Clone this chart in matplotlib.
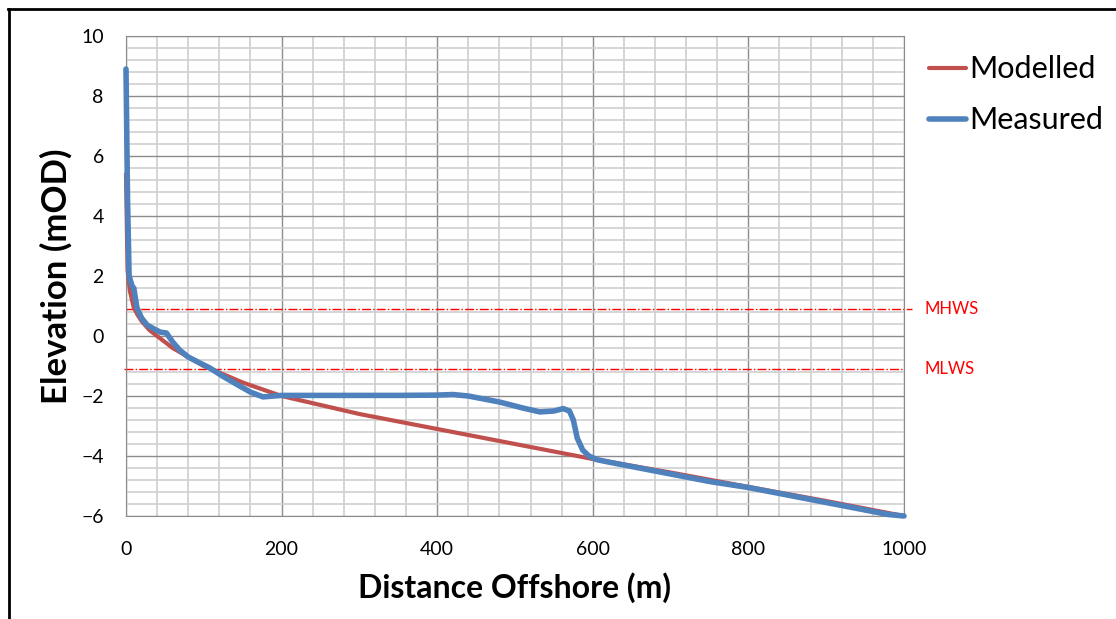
import numpy as np
import matplotlib.pyplot as plt
from matplotlib.lines import Line2D
from matplotlib.ticker import MultipleLocator

plt.rcParams['font.family'] = ['Lato', 'DejaVu Sans']

# modelled profile
mod_x = [0, 2, 5, 10, 15, 20, 30, 40, 60, 80, 100, 150, 200, 300, 400, 500, 600, 700, 800, 900, 1000]
mod_y = [5.4, 2.2, 1.5, 0.95, 0.7, 0.5, 0.2, 0.0, -0.4, -0.7, -1.0, -1.55, -2.0, -2.6, -3.1, -3.6, -4.1, -4.55, -5.03, -5.5, -6.0]

# measured profile
meas_x = [0, 2, 4, 8, 10, 14, 20, 27, 35, 44, 52, 60, 69, 80, 95, 108, 125, 145, 160, 176, 190,
          200, 250, 300, 350, 400, 420, 440, 480, 510, 532, 550, 562, 570, 575, 580, 587, 595,
          605, 620, 650, 700, 750, 800, 850, 900, 950, 980, 1000]
meas_y = [8.9, 4.5, 2.0, 1.65, 1.6, 0.95, 0.6, 0.37, 0.25, 0.13, 0.1, -0.2, -0.47, -0.7, -0.9, -1.07, -1.35, -1.65, -1.87, -2.03, -2.0,
          -1.98, -1.98, -1.98, -1.98, -1.97, -1.95, -2.0, -2.2, -2.4, -2.53, -2.5, -2.42, -2.5, -2.8, -3.4, -3.8, -4.0,
          -4.12, -4.2, -4.35, -4.6, -4.85, -5.05, -5.3, -5.55, -5.8, -5.95, -6.0]

mhws = 0.9
mlws = -1.1

fig = plt.figure(figsize=(11.16, 6.19), dpi=100)
ax = fig.add_axes([0.1129, 0.1664, 0.6971, 0.7754])

ax.set_xlim(0, 1000)
ax.set_ylim(-6, 10)
ax.xaxis.set_major_locator(MultipleLocator(200))
ax.xaxis.set_minor_locator(MultipleLocator(40))
ax.yaxis.set_major_locator(MultipleLocator(2))
ax.yaxis.set_minor_locator(MultipleLocator(0.4))
ax.grid(which='minor', color='#d0d0d0', lw=1.2, zorder=0)
ax.grid(which='major', color='#8c8c8c', lw=1.0, zorder=0)
ax.tick_params(which='both', length=0)
ax.tick_params(axis='y', pad=16, labelsize=14)
ax.tick_params(axis='x', pad=18, labelsize=14)
for s in ax.spines.values():
    s.set_color('#8c8c8c')
ax.set_axisbelow(True)

ax.hlines(mhws, 0, 1010, colors='#ff0000', linestyles='-.', lw=1, clip_on=False, zorder=2)
ax.hlines(mlws, -3, 1000, colors='#ff0000', linestyles='-.', lw=1, clip_on=False, zorder=2)
ax.text(1027, mhws, 'MHWS', color='#ff0000', fontsize=12, va='center')
ax.text(1027, mlws, 'MLWS', color='#ff0000', fontsize=12, va='center')

ax.plot(mod_x, mod_y, color='#c0504d', lw=3, label='Modelled', clip_on=False, zorder=3,
        solid_joinstyle='round', solid_capstyle='round')
ax.plot(meas_x, meas_y, color='#4f81bd', lw=4, label='Measured', clip_on=False, zorder=4,
        solid_joinstyle='round', solid_capstyle='round')

ax.set_xlabel('Distance Offshore (m)', fontsize=23, fontweight='bold', labelpad=10)
ax.set_ylabel('Elevation (mOD)', fontsize=25, fontweight='bold', labelpad=6)

leg = ax.legend(loc='upper left', bbox_to_anchor=(0.808, 0.955), bbox_transform=fig.transFigure,
                frameon=False, fontsize=22, handlelength=1.2, handletextpad=0.1, labelspacing=0.75)

fig.add_artist(Line2D([0.007, 1.0], [0.985, 0.985], color='black', lw=2))
fig.add_artist(Line2D([0.008, 0.008], [0.0, 0.985], color='black', lw=2))

fig.savefig('out.png', dpi=100)
